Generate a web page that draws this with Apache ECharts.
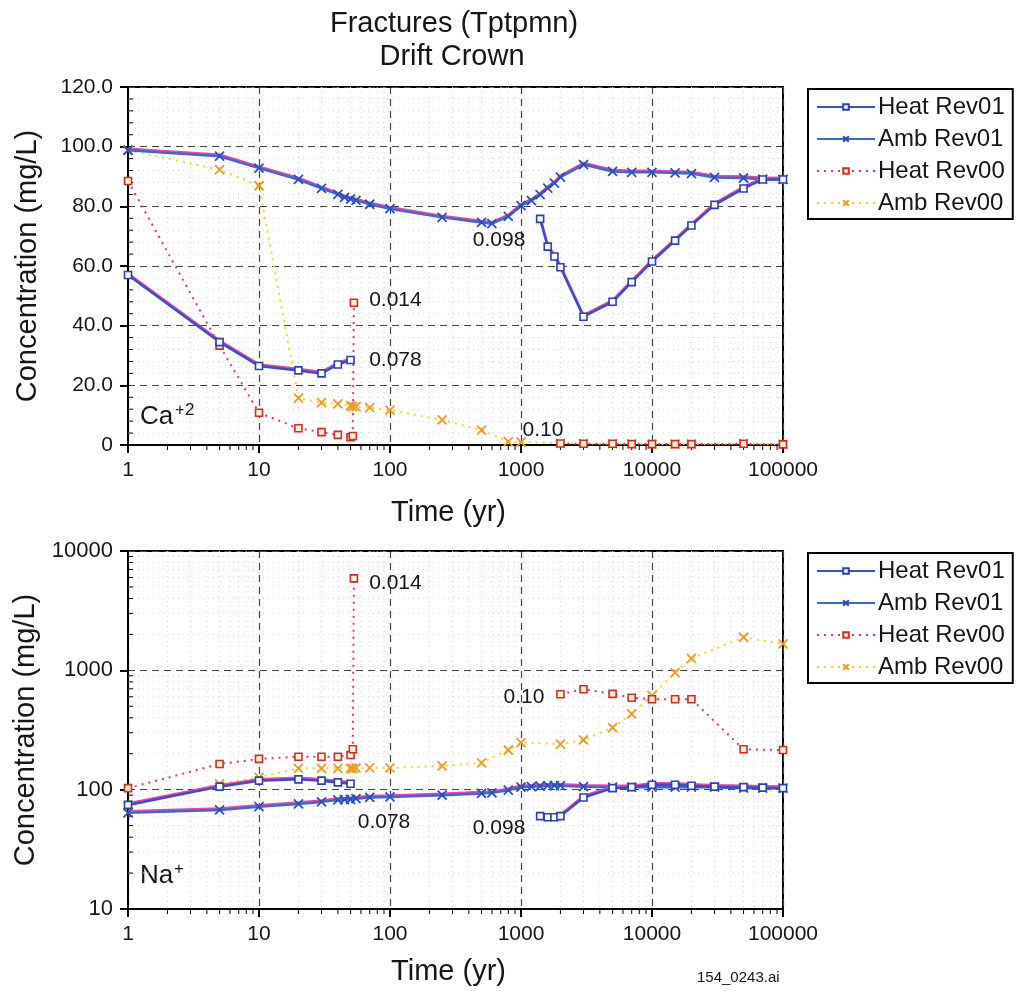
<!DOCTYPE html>
<html>
<head>
<meta charset="utf-8">
<script src="https://cdn.jsdelivr.net/npm/echarts@6/dist/echarts.min.js"></script>
<style>
html,body{margin:0;padding:0;background:#fff;}
#c{width:1016px;height:991px;}
</style>
</head>
<body>
<div id="c"></div>
<script>
// ---------- data ----------
const seriesNames = ['Heat Rev01', 'Amb Rev01', 'Heat Rev00', 'Amb Rev00'];

// time arrays (yr); null = break in line
const tHeatRev01 = [1, 5, 10, 20, 30, 40, 50, null, 1400, 1600, 1800, 2000, 3000, 5000, 7000, 10000, 15000, 20000, 30000, 50000, 70000, 100000];
const tAmbRev01 = [1, 5, 10, 20, 30, 40, 45, 50, 55, 70, 100, 250, 500, 600, 800, 1000, 1200, 1400, 1600, 1800, 2000, 3000, 5000, 7000, 10000, 15000, 20000, 30000, 50000, 70000, 100000];
const tHeatRev00 = [1, 5, 10, 20, 30, 40, 50, 52, 53, null, 2000, 3000, 5000, 7000, 10000, 15000, 20000, 50000, 100000];
const tAmbRev00 = [1, 5, 10, 20, 30, 40, 50, 52, 55, 70, 100, 250, 500, 800, 1000, 2000, 3000, 5000, 7000, 10000, 15000, 20000, 50000, 100000];

// Ca+2 concentration (mg/L)
const caHeatRev01 = [57, 34.5, 26.5, 25, 24, 27, 28.5, null, 75.8, 66.5, 63.2, 59.6, 43, 48, 54.6, 61.5, 68.5, 73.6, 80.5, 86, 89, 89];
const caAmbRev01 = [98.8, 96.8, 92.8, 89, 86, 84, 83, 82.4, 82, 80.7, 79.2, 76.3, 74.6, 74.2, 76.6, 80.2, 81.9, 83.9, 86.1, 87.8, 89.8, 94, 91.7, 91.4, 91.4, 91.2, 91, 89.7, 89.5, 89.1, 89];
const caHeatRev00 = [88.5, 33.3, 10.8, 5.6, 4.3, 3.4, 2.6, 3, 47.7, null, 0.5, 0.4, 0.4, 0.3, 0.3, 0.3, 0.3, 0.4, 0.2];
const caAmbRev00 = [98.8, 92.3, 86.9, 15.7, 14.2, 13.8, 13.2, 12.9, 12.9, 12.5, 11.7, 8.4, 5.0, 1.1, 1.0, 0.6, 0.5, 0.4, 0.4, 0.3, 0.3, 0.3, 0.5, 0.3];

// Na+ concentration (mg/L)
const naHeatRev01 = [74.5, 106, 119, 122, 119, 115, 112, null, 60, 58.7, 58.7, 60, 86, 103, 105, 110, 110, 108, 106, 105, 104, 103];
const naAmbRev01 = [64, 67.6, 72, 76, 79, 82, 82.5, 83, 84, 86, 87, 90, 93, 94, 99, 105, 106, 107, 108, 108, 108, 106, 105, 105, 105, 105, 105, 105, 103, 103, 103];
const naHeatRev00 = [103, 164, 181, 189, 189, 189, 195, 218, 5900, null, 630, 695, 635, 590, 573, 573, 573, 218, 215];
const naAmbRev00 = [72, 112, 127, 151, 151, 151, 151, 151, 152, 152, 152, 158, 168, 215, 248, 241, 261, 331, 431, 617, 956, 1260, 1893, 1663];

// annotations: [time, conc, text]
const caNotes = [[110, 48.7, '0.014'], [110, 28.5, '0.078'], [680, 68.8, '0.098'], [1473, 5.0, '0.10']];
const naNotes = [[110, 5400, '0.014'], [90, 53.6, '0.078'], [680, 47.7, '0.098'], [1055, 598, '0.10']];

// minor gridline / tick values
const minorX = [2,3,4,5,6,7,8,9,20,30,40,50,60,70,80,90,200,300,400,500,600,700,800,900,2000,3000,4000,5000,6000,7000,8000,9000,20000,30000,40000,50000,60000,70000,80000,90000];
const minorYCa = [4,8,12,16,24,28,32,36,44,48,52,56,64,68,72,76,84,88,92,96,104,108,112,116];
const minorYNa = [20,30,40,50,60,70,80,90,200,300,400,500,600,700,800,900,2000,3000,4000,5000,6000,7000,8000,9000];

// ---------- helpers ----------
const FONT = 'Liberation Sans, Arial, sans-serif';
const TXT = '#161616';
function pairs(t, v) {
  return t.map((x, i) => (v[i] === null || x === null) ? [300, '-'] : [x, v[i]]);
}
const xPath = 'path://M0,0L10,10M10,0L0,10';
const styles = {
  'Heat Rev01': {
    symbol: 'rect', symbolSize: 7,
    lineStyle: { color: '#3550c8', width: 2.5, type: 'solid', shadowColor: '#f040b0', shadowOffsetY: -1.5, shadowBlur: 0 },
    itemStyle: { color: '#ffffff', borderColor: '#2a3fb8', borderWidth: 1.6 }
  },
  'Amb Rev01': {
    symbol: xPath, symbolSize: 9,
    lineStyle: { color: '#3a6ad0', width: 2.5, type: 'solid', shadowColor: '#f040b0', shadowOffsetY: -1.5, shadowBlur: 0 },
    itemStyle: { color: '#2a50c0', borderColor: '#2a50c0', borderWidth: 1.8 }
  },
  'Heat Rev00': {
    symbol: 'rect', symbolSize: 7,
    lineStyle: { color: '#e8307a', width: 2, type: [2, 5] },
    itemStyle: { color: '#fff8d0', borderColor: '#d4282a', borderWidth: 1.6 }
  },
  'Amb Rev00': {
    symbol: xPath, symbolSize: 9,
    lineStyle: { color: '#f7d21a', width: 2, type: [2, 5] },
    itemStyle: { color: '#f29a1c', borderColor: '#f29a1c', borderWidth: 1.8 }
  }
};
function lineSeries(name, t, v, gi) {
  const s = styles[name];
  return {
    name: name, type: 'line', xAxisIndex: gi, yAxisIndex: gi,
    data: pairs(t, v), connectNulls: false,
    symbol: s.symbol, symbolSize: s.symbolSize, showAllSymbol: true,
    lineStyle: s.lineStyle, itemStyle: s.itemStyle,
    emphasis: { disabled: true }, z: 5, animation: false
  };
}
const GRIDDOT = { stroke: '#d4d4d4', lineWidth: 1, lineDash: [1, 4] };
function minorXSeries(gi, yMin, yMax) {
  return {
    type: 'custom', xAxisIndex: gi, yAxisIndex: gi, silent: true, z: 1, animation: false,
    data: minorX.map(v => [v, yMin]),
    renderItem: function (params, api) {
      const v = api.value(0);
      const p0 = api.coord([v, yMax]);
      const p1 = api.coord([v, yMin]);
      return { type: 'group', children: [
        { type: 'line', shape: { x1: p0[0], y1: p0[1], x2: p1[0], y2: p1[1] }, style: GRIDDOT },
        { type: 'line', shape: { x1: p1[0], y1: p1[1], x2: p1[0], y2: p1[1] + 5 }, style: { stroke: '#000', lineWidth: 1 } }
      ] };
    }
  };
}
function minorYSeries(gi, vals, xMin, xMax) {
  return {
    type: 'custom', xAxisIndex: gi, yAxisIndex: gi, silent: true, z: 1, animation: false,
    data: vals.map(v => [xMin, v]),
    renderItem: function (params, api) {
      const v = api.value(1);
      const p0 = api.coord([xMin, v]);
      const p1 = api.coord([xMax, v]);
      return { type: 'group', children: [
        { type: 'line', shape: { x1: p0[0], y1: p0[1], x2: p1[0], y2: p1[1] }, style: GRIDDOT },
        { type: 'line', shape: { x1: p0[0], y1: p0[1], x2: p0[0] + 5, y2: p0[1] }, style: { stroke: '#000', lineWidth: 1 } }
      ] };
    }
  };
}
function noteSeries(gi, notes) {
  return {
    type: 'scatter', xAxisIndex: gi, yAxisIndex: gi, silent: true, z: 6, animation: false,
    symbolSize: 0, itemStyle: { opacity: 1 },
    data: notes.map(n => ({ value: [n[0], n[1]], name: n[2] })),
    label: { show: true, position: 'inside', formatter: p => p.name, fontSize: 21, color: TXT, opacity: 1, fontFamily: FONT }
  };
}
function xAxis(gi, nameGap) {
  return {
    type: 'log', logBase: 10, gridIndex: gi, min: 1, max: 100000,
    name: 'Time (yr)', nameLocation: 'middle', nameGap: nameGap,
    nameTextStyle: { fontSize: 29, color: TXT, fontFamily: FONT, padding: [0, 14, 0, 0] },
    axisLine: { show: true, lineStyle: { color: '#000', width: 2 } },
    axisTick: { show: true, inside: false, length: 8, lineStyle: { color: '#000', width: 2 } },
    axisLabel: { fontSize: 21, color: TXT, fontFamily: FONT, margin: 15, formatter: v => String(Math.round(v)) },
    splitLine: { show: true, lineStyle: { color: '#444', width: 1.2, type: [7, 5] } },
    minorTick: { show: false }
  };
}
function yCommon() {
  return {
    name: 'Concentration (mg/L)', nameLocation: 'middle', nameGap: 86,
    nameTextStyle: { fontSize: 29, color: TXT, fontFamily: FONT },
    axisLine: { show: true, lineStyle: { color: '#000', width: 2 } },
    axisTick: { show: true, inside: false, length: 8, lineStyle: { color: '#000', width: 2 } },
    minorTick: { show: false },
    splitLine: { show: true, lineStyle: { color: '#444', width: 1.2, type: [7, 5] } }
  };
}
function legend(top) {
  return { data: seriesNames, orient: 'vertical', left: 808, top: top, itemWidth: 58, itemHeight: 7, itemGap: 8,
    padding: [6, 8, 4, 8], borderColor: '#000', borderWidth: 2, backgroundColor: '#fff',
    textStyle: { fontSize: 24, color: TXT, fontFamily: FONT, padding: [0, 0, 0, -2] }, selectedMode: false };
}

const option = {
  backgroundColor: '#ffffff',
  animation: false,
  textStyle: { fontFamily: FONT },
  title: [
    { text: 'Fractures (Tptpmn)', left: 449, top: 4, textAlign: 'center', textStyle: { fontSize: 29, fontWeight: 'normal', color: TXT, fontFamily: FONT } },
    { text: 'Drift Crown', left: 447, top: 37, textAlign: 'center', textStyle: { fontSize: 29, fontWeight: 'normal', color: TXT, fontFamily: FONT } }
  ],
  grid: [
    { left: 128, top: 87, width: 655, height: 358, show: true, borderColor: '#000', borderWidth: 2, backgroundColor: 'transparent' },
    { left: 128, top: 551, width: 655, height: 358, show: true, borderColor: '#000', borderWidth: 2, backgroundColor: 'transparent' }
  ],
  legend: [legend(89), legend(553)],
  xAxis: [xAxis(0, 53), xAxis(1, 48)],
  yAxis: [
    Object.assign(yCommon(), { type: 'value', gridIndex: 0, min: 0, max: 120, interval: 20,
      axisLabel: { fontSize: 21, color: TXT, fontFamily: FONT, margin: 15, formatter: v => v === 0 ? '0' : v.toFixed(1) } }),
    Object.assign(yCommon(), { type: 'log', logBase: 10, gridIndex: 1, min: 10, max: 10000,
      axisLabel: { fontSize: 22, color: TXT, fontFamily: FONT, margin: 15, formatter: v => String(Math.round(v)) } })
  ],
  graphic: [
    { type: 'text', left: 140, top: 404, style: { text: 'Ca', fontSize: 26, fill: TXT, fontFamily: FONT } },
    { type: 'text', left: 175, top: 402, style: { text: '+2', fontSize: 17, fill: TXT, fontFamily: FONT } },
    { type: 'text', left: 140, top: 863, style: { text: 'Na', fontSize: 26, fill: TXT, fontFamily: FONT } },
    { type: 'text', left: 174, top: 861, style: { text: '+', fontSize: 17, fill: TXT, fontFamily: FONT } },
    { type: 'text', left: 697, top: 970, style: { text: '154_0243.ai', fontSize: 15, fill: TXT, fontFamily: FONT } }
  ],
  series: [
    minorXSeries(0, 0, 120),
    minorYSeries(0, minorYCa, 1, 100000),
    minorXSeries(1, 10, 10000),
    minorYSeries(1, minorYNa, 1, 100000),
    lineSeries('Amb Rev00', tAmbRev00, caAmbRev00, 0),
    lineSeries('Heat Rev00', tHeatRev00, caHeatRev00, 0),
    lineSeries('Amb Rev01', tAmbRev01, caAmbRev01, 0),
    lineSeries('Heat Rev01', tHeatRev01, caHeatRev01, 0),
    lineSeries('Amb Rev00', tAmbRev00, naAmbRev00, 1),
    lineSeries('Heat Rev00', tHeatRev00, naHeatRev00, 1),
    lineSeries('Amb Rev01', tAmbRev01, naAmbRev01, 1),
    lineSeries('Heat Rev01', tHeatRev01, naHeatRev01, 1),
    noteSeries(0, caNotes),
    noteSeries(1, naNotes)
  ]
};
const chart = echarts.init(document.getElementById('c'), null, { renderer: 'canvas' });
chart.setOption(option);
</script>
</body>
</html>
